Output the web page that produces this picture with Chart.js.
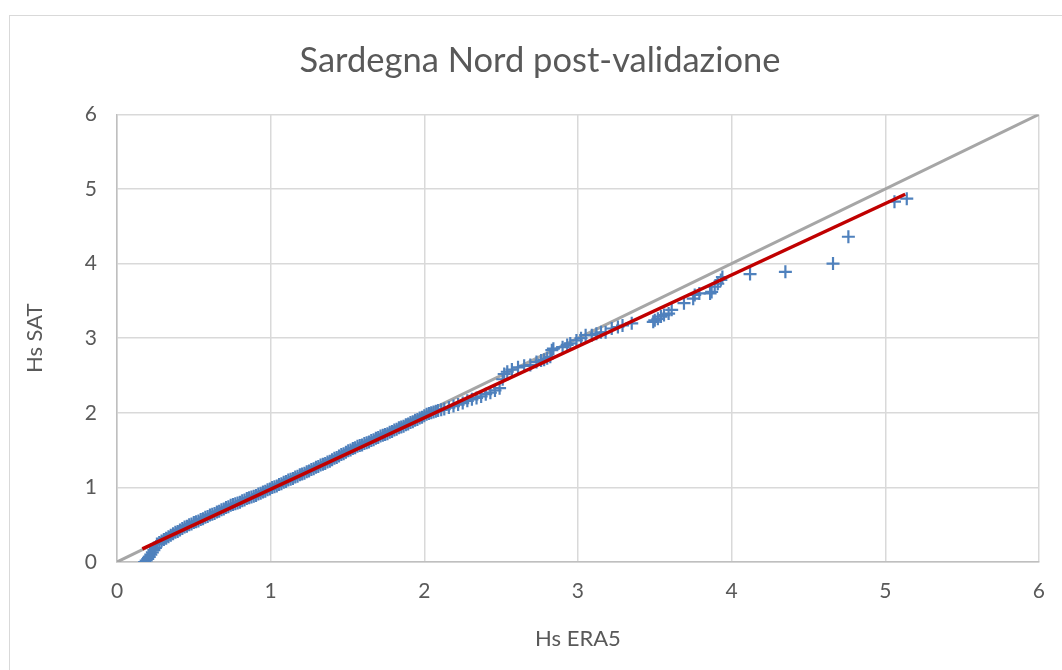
<!DOCTYPE html>
<html>
<head>
<meta charset="utf-8">
<script src="https://cdn.jsdelivr.net/npm/chart.js@4"></script>
<style>
  html, body { margin: 0; padding: 0; background: #fff; }
  #frame { position: absolute; left: 9px; top: 15px; width: 1100px; height: 700px;
           border-left: 1px solid #d9d9d9; border-top: 1px solid #d9d9d9; }
  #wrap { position: absolute; left: 0; top: 0; width: 1062px; height: 670px; }
</style>
</head>
<body>
<div id="frame"></div>
<div id="wrap"><canvas id="qqChart"></canvas></div>
<script>
// dati (quantili Hs)
const hsEra5 = [
  0.17, 0.18, 0.19, 0.20, 0.21, 0.22, 0.23, 0.24, 0.25,
  0.26, 0.275, 0.29, 0.305, 0.32, 0.335, 0.35, 0.365, 0.38, 0.395,
  0.41, 0.425, 0.44, 0.455, 0.47, 0.485, 0.50, 0.515, 0.53, 0.545,
  0.56, 0.575, 0.59, 0.605, 0.62, 0.635, 0.65, 0.665, 0.68, 0.695,
  0.71, 0.725, 0.74, 0.755, 0.77, 0.785, 0.80, 0.815, 0.83, 0.845,
  0.86, 0.875, 0.89, 0.905, 0.92, 0.935, 0.95, 0.965, 0.98, 0.995,
  1.01, 1.025, 1.04, 1.055, 1.07, 1.085, 1.10, 1.115, 1.13, 1.145,
  1.16, 1.175, 1.19, 1.205, 1.22, 1.235, 1.25, 1.265, 1.28, 1.295,
  1.31, 1.325, 1.34, 1.355, 1.37, 1.385, 1.40, 1.415, 1.43, 1.445,
  1.46, 1.475, 1.49, 1.505, 1.52, 1.535, 1.55, 1.565, 1.58, 1.595,
  1.61, 1.625, 1.64, 1.655, 1.67, 1.685, 1.70, 1.715, 1.73, 1.745,
  1.76, 1.775, 1.79, 1.805, 1.82, 1.835, 1.85, 1.865, 1.88, 1.895,
  1.91, 1.925, 1.94, 1.955, 1.97, 1.985, 2.00, 2.015, 2.03, 2.045,
  2.06, 2.075, 2.09,
  2.11, 2.13, 2.16, 2.19, 2.22, 2.25, 2.28, 2.31, 2.34, 2.37, 2.40, 2.43, 2.46, 2.49,
  2.51, 2.52, 2.54, 2.57, 2.61, 2.65, 2.69, 2.73, 2.76, 2.78, 2.80, 2.82, 2.83, 2.84,
  2.90, 2.93, 2.95, 2.99, 3.02, 3.05, 3.09, 3.12, 3.15, 3.18, 3.22, 3.26, 3.29, 3.35,
  3.49, 3.50, 3.52, 3.54, 3.56, 3.59, 3.61,
  3.69, 3.75, 3.76, 3.79, 3.86, 3.87, 3.89, 3.91, 3.93, 3.94,
  4.12, 4.35, 4.66, 4.76, 5.06, 5.14
];
const hsSat = [
  -0.02, 0.00, 0.02, 0.04, 0.07, 0.10, 0.13, 0.16, 0.19,
  0.24, 0.26, 0.28, 0.30, 0.32, 0.34, 0.36, 0.38, 0.40, 0.41,
  0.43, 0.45, 0.47, 0.48, 0.50, 0.51, 0.53, 0.54, 0.55, 0.57,
  0.58, 0.60, 0.61, 0.63, 0.64, 0.65, 0.67, 0.68, 0.70, 0.71,
  0.73, 0.74, 0.76, 0.77, 0.78, 0.79, 0.80, 0.82, 0.83, 0.85,
  0.86, 0.87, 0.88, 0.89, 0.91, 0.92, 0.94, 0.95, 0.97, 0.98,
  1.00, 1.01, 1.02, 1.04, 1.05, 1.07, 1.08, 1.10, 1.11, 1.12,
  1.14, 1.15, 1.17, 1.18, 1.19, 1.21, 1.22, 1.24, 1.25, 1.27,
  1.28, 1.30, 1.31, 1.32, 1.34, 1.35, 1.37, 1.39, 1.40, 1.42,
  1.44, 1.45, 1.47, 1.49, 1.50, 1.52, 1.53, 1.55, 1.56, 1.57,
  1.59, 1.60, 1.61, 1.63, 1.64, 1.66, 1.67, 1.69, 1.70, 1.71,
  1.72, 1.74, 1.75, 1.77, 1.78, 1.80, 1.81, 1.82, 1.84, 1.85,
  1.87, 1.88, 1.90, 1.91, 1.93, 1.94, 1.96, 1.98, 1.99, 2.00,
  2.01, 2.02, 2.03,
  2.04, 2.05, 2.07, 2.09, 2.11, 2.13, 2.16, 2.18, 2.20, 2.22, 2.25, 2.27, 2.30, 2.33,
  2.45, 2.52, 2.55, 2.58, 2.61, 2.63, 2.64, 2.68, 2.70, 2.71, 2.73, 2.75, 2.84, 2.86,
  2.88, 2.91, 2.93, 2.97, 3.00, 3.04, 3.04, 3.06, 3.08, 3.08, 3.13, 3.15, 3.17, 3.20,
  3.22, 3.24, 3.26, 3.29, 3.31, 3.33, 3.38,
  3.47, 3.53, 3.58, 3.60, 3.60, 3.62, 3.69, 3.73, 3.78, 3.82,
  3.86, 3.89, 4.00, 4.36, 4.83, 4.87
];
// retta di regressione (rossa) e bisettrice (grigia)
const trendX = [0.165, 5.13];
const trendY = [0.175, 4.93];
const bisX = [0, 6];
const bisY = [0, 6];
const axisTicks = [0, 1, 2, 3, 4, 5, 6];

const toPoints = (xs, ys) => xs.map((x, i) => ({ x: x, y: ys[i] }));

const textColor = "#595959";
const fontFam = "Lato, 'Open Sans', sans-serif";

// sposta il titolo a destra come nell'originale (centrato su ~540px)
const shiftTitle = {
  id: "shiftTitle",
  afterLayout(chart) {
    const t = chart.titleBlock;
    if (t) { t.left = 40; t.right = 1040; }
  },
};

const ctx = document.getElementById("qqChart");

new Chart(ctx, {
  type: "scatter",
  data: {
    datasets: [
      {
        label: "Regressione",
        data: toPoints(trendX, trendY),
        showLine: true,
        borderColor: "#C00000",
        borderWidth: 3.5,
        pointRadius: 0,
        order: 0,
      },
      {
        label: "Hs",
        data: toPoints(hsEra5, hsSat),
        pointStyle: "cross",
        pointRadius: 6.5,
        pointBorderWidth: 2.2,
        borderColor: "#4F81BD",
        backgroundColor: "#4F81BD",
        order: 1,
      },
      {
        label: "1:1",
        data: toPoints(bisX, bisY),
        showLine: true,
        borderColor: "#A6A6A6",
        borderWidth: 3,
        pointRadius: 0,
        order: 2,
      },
    ],
  },
  plugins: [shiftTitle],
  options: {
    responsive: true,
    maintainAspectRatio: false,
    animation: false,
    events: [],
    layout: { padding: { left: 0, right: 23, top: 0, bottom: 18 } },
    plugins: {
      legend: { display: false },
      tooltip: { enabled: false },
      title: {
        display: true,
        text: "Sardegna Nord post-validazione",
        color: textColor,
        font: { family: fontFam, size: 34.5, weight: "normal" },
        padding: { top: 40, bottom: 33 },
      },
    },
    scales: {
      x: {
        type: "linear",
        min: 0,
        max: 6,
        afterFit: (s) => { s.height = 90; },
        afterBuildTicks: (s) => { s.ticks = axisTicks.map((v) => ({ value: v })); },
        ticks: { color: textColor, font: { family: fontFam, size: 21 }, padding: 17 },
        grid: { color: "#D9D9D9", lineWidth: 1.5, drawTicks: false },
        border: { color: "#BFBFBF", width: 1.5 },
        title: {
          display: true,
          text: "Hs ERA5",
          color: textColor,
          font: { family: fontFam, size: 22 },
          padding: { top: 14, bottom: 0 },
        },
      },
      y: {
        type: "linear",
        min: 0,
        max: 6,
        afterFit: (s) => { s.width = 117; },
        afterBuildTicks: (s) => { s.ticks = axisTicks.map((v) => ({ value: v })); },
        ticks: { color: textColor, font: { family: fontFam, size: 21 }, padding: 20 },
        grid: { color: "#D9D9D9", lineWidth: 1.5, drawTicks: false },
        border: { color: "#BFBFBF", width: 1.5 },
        title: {
          display: true,
          text: "Hs SAT",
          color: textColor,
          font: { family: fontFam, size: 22 },
          padding: { top: 22, bottom: 0 },
        },
      },
    },
  },
});
</script>
</body>
</html>
